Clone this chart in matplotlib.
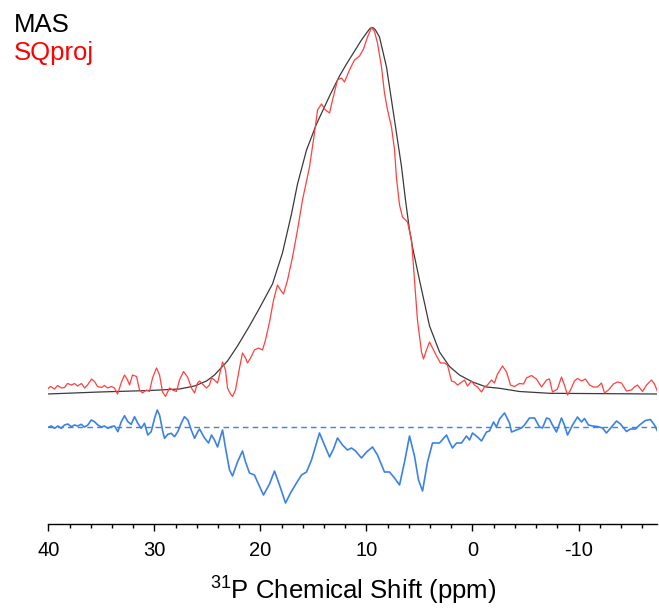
import matplotlib
matplotlib.use('Agg')

import matplotlib.pyplot as plt
from matplotlib.ticker import MultipleLocator

# 31P spectra, intensity in arbitrary units (MAS peak ~ 366)
mas_ppm = [40.07, 35.17, 30.45, 27.63, 26.21, 25.08, 24.33, 23.10, 22.16, 21.03,
           20.08, 18.86, 17.92, 17.07, 16.50, 15.65, 14.71, 13.48, 12.54, 11.88,
           10.94, 10.47, 9.99, 9.71, 9.52, 9.33, 9.15, 8.77, 8.11, 7.64,
           7.17, 6.69, 6.32, 5.94, 5.66, 5.00, 4.05, 3.11, 2.17, 1.23,
           0.00, -1.32, -2.55, -4.43, -7.26, -17.35]
mas_int = [0, 2, 3.5, 5, 8, 13, 19, 33, 48, 68,
           86, 110, 141, 180, 210, 244, 270, 298, 318, 330,
           346, 354, 361, 365, 366.5, 366, 364, 357, 327, 294,
           261, 227, 194, 164, 147, 114, 68, 42, 27.5, 19,
           12, 7, 5.7, 2.5, 0.7, 0]

sq_ppm = [40.07, 39.79, 39.41, 39.13, 38.75, 38.47, 38.19, 37.81, 37.53, 37.24,
          36.87, 36.58, 36.30, 35.92, 35.64, 35.36, 34.98, 34.70, 34.42, 34.04,
          33.76, 33.47, 33.10, 32.81, 32.53, 32.34, 32.06, 31.68, 31.40, 31.12,
          30.74, 30.46, 30.17, 29.80, 29.51, 29.23, 28.95, 28.57, 28.29, 27.91,
          27.63, 27.25, 26.87, 26.50, 26.21, 25.93, 25.74, 25.46, 25.08, 24.80,
          24.61, 24.33, 24.04, 23.86, 23.57, 23.29, 23.10, 22.82, 22.63, 22.35,
          21.97, 21.69, 21.40, 21.22, 20.93, 20.56, 20.18, 19.80, 19.52, 19.14,
          18.76, 18.39, 18.10, 17.82, 17.44, 16.97, 16.50, 16.03, 15.37, 14.90,
          14.61, 14.24, 13.86, 13.48, 13.20, 12.73, 12.35, 12.07, 11.60, 11.13,
          10.65, 10.28, 9.90, 9.52, 9.24, 8.96, 8.58, 8.30, 8.01, 7.64,
          7.35, 7.17, 6.88, 6.60, 6.13, 5.75, 5.47, 5.19, 4.81, 4.62,
          4.34, 4.05, 3.77, 3.39, 3.02, 2.64, 2.36, 1.98, 1.70, 1.41,
          1.13, 0.75, 0.47, 0.09, -0.19, -0.47, -0.85, -1.13, -1.41, -1.79,
          -2.07, -2.36, -2.83, -3.21, -3.58, -3.96, -4.43, -4.81, -5.09, -5.56,
          -6.03, -6.51, -6.98, -7.26, -7.54, -8.01, -8.39, -8.67, -8.96, -9.24,
          -9.62, -9.90, -10.28, -10.65, -11.03, -11.41, -11.79, -12.16, -12.45, -12.82,
          -13.29, -13.67, -14.05, -14.52, -14.99, -15.27, -15.56, -16.03, -16.41, -16.88,
          -17.16, -17.44]
sq_int = [5, 7.5, 5, 8.5, 6, 6.5, 10.5, 9, 10.5, 8,
          10.5, 6, 9, 15, 12.5, 7.5, 6.5, 8.5, 6, 7.5,
          6, 0, 12, 19, 14, 9, 19, 17.5, 4, 1,
          4, 2.5, 16, 26, 19, 2, -2.5, 6, 4, 2.5,
          14, 22.5, 17, 6, 1, 11, 13, 10, 6, 9,
          16, 14, 11, 19, 32, 24, 6, 0, -2.5, 4,
          26, 41, 36, 31, 36, 44, 46, 44, 54, 72,
          94, 109, 104, 100, 114, 137, 164, 194, 227, 261,
          284, 290, 284, 281, 294, 314, 316, 312, 324, 334,
          338, 345, 357, 366.5, 362.5, 351, 327, 301, 284, 267,
          244, 216, 189, 177, 172, 154, 114, 74, 42, 35,
          44, 52, 46, 38, 31, 31, 29, 13, 12, 9,
          11, 14, 8, 13, 9, 7, 2, 7, 9, 14,
          11, 20, 28, 22, 9, 7.5, 10.5, 10, 16, 18.5,
          15, 7, 14, 15, 2, 5, 17, 9, -1, 4,
          13, 15.5, 13, 15, 9, 7, 7, 11, 1, 4,
          10, 12, 11, 3, 4, 7, 9, 2.5, 9, 14,
          10, 2.5]

diff_ppm = [40.04, 39.72, 39.41, 39.10, 38.78, 38.47, 38.16, 37.84, 37.53, 37.22,
            36.90, 36.58, 36.27, 35.95, 35.64, 35.33, 35.01, 34.70, 34.39, 34.07,
            33.76, 33.44, 33.12, 32.81, 32.50, 32.18, 31.87, 31.56, 31.24, 30.93,
            30.62, 30.30, 29.98, 29.73, 29.51, 29.20, 29.04, 28.73, 28.41, 28.10,
            27.79, 27.47, 27.16, 26.84, 26.52, 26.21, 25.90, 25.74, 25.27, 24.89,
            24.61, 24.33, 24.04, 23.57, 23.29, 22.91, 22.63, 22.16, 21.69, 21.40,
            21.03, 20.56, 20.27, 19.71, 19.14, 18.67, 18.20, 17.63, 17.16, 16.60,
            16.12, 15.65, 15.18, 14.43, 13.95, 13.48, 13.11, 12.73, 12.26, 11.79,
            11.41, 11.03, 10.47, 9.99, 9.43, 8.96, 8.30, 7.83, 7.35, 6.88,
            6.41, 5.94, 5.47, 5.09, 4.71, 4.24, 3.77, 3.11, 2.45, 2.17,
            1.89, 1.51, 1.04, 0.57, 0.28, 0.00, -0.47, -0.85, -1.32, -1.60,
            -1.98, -2.26, -2.55, -3.02, -3.49, -3.68, -4.15, -4.62, -4.90, -5.37,
            -5.85, -6.32, -6.60, -6.98, -7.26, -7.54, -7.92, -8.39, -8.67, -8.96,
            -9.43, -9.90, -10.28, -10.56, -10.94, -11.31, -11.79, -12.26, -12.63, -13.11,
            -13.58, -13.95, -14.52, -14.90, -15.37, -15.75, -16.31, -16.78, -17.16, -17.44]
diff_int = [-0.3, 1, -1.3, 1, -1.3, 2, 3, 0.3, 2, 1,
            2.7, 0, 2, 7, 5.3, 2, 0, 1, -1.3, 0.3,
            1, -4.7, 5.3, 11.3, 5.3, 2.7, 10.3, 3.7, -1.3, 3.7,
            -8, -4.7, 8.7, 17, 12, -4.7, -11.3, -7.3, -6.3, -9.7,
            -4.7, 3.7, 10.3, 7, -3, -11.3, -4.7, -2, -11, -16,
            -8, -13, -20, -3, -21, -43, -49, -35, -24, -35,
            -46, -48, -55, -68, -57, -44, -58, -76, -66, -56,
            -48, -45, -33, -6, -18, -30, -22, -11, -18, -23,
            -21, -24, -31, -25, -20, -28, -45, -45, -51, -58,
            -35, -9, -29, -53, -64, -35, -16, -16, -8, -15,
            -21, -16, -16, -9, -13, -6, -10, -14, -5, -4,
            5, 0, 8, 14, 4, -5, -3, -1, 2, 9,
            9, 0, -1, 9, 8, 2, -5, 9, 2, -8,
            2, 10, 5, 8.5, 2, 1, 0.5, -1, -6, 0,
            6, 3, -4.5, -2, -2, 2, 6.5, 7.5, 2, -4]
diff_offset = -33

plt.rcParams['font.family'] = ['Liberation Sans', 'DejaVu Sans']
plt.rcParams['mathtext.fontset'] = 'custom'
plt.rcParams['mathtext.rm'] = 'Liberation Sans'
plt.rcParams['mathtext.it'] = 'Liberation Sans'
plt.rcParams['axes.unicode_minus'] = False

fig = plt.figure(figsize=(6.59, 6.10), dpi=100)
ax = fig.add_axes([0.0733, 0.1405, 0.9237, 0.8595])

diff_y = [v + diff_offset for v in diff_int]
ax.axhline(diff_offset, color='#3b82e6', lw=1.0, dashes=(4, 3))
ax.plot(diff_ppm, diff_y, color='#3b82e6', lw=1.2)
ax.plot(mas_ppm, mas_int, color='#3a3a3a', lw=0.9)
ax.plot(sq_ppm, sq_int, color='#ff4040', lw=0.9)

ax.set_xlim(40, -17.4)
ax.set_ylim(-130.3, 394)
for s in ['left', 'right', 'top']:
    ax.spines[s].set_visible(False)
ax.spines['bottom'].set_linewidth(1.0)
ax.set_yticks([])
ax.xaxis.set_major_locator(MultipleLocator(10))
ax.xaxis.set_minor_locator(MultipleLocator(2))
ax.tick_params(axis='x', which='major', length=5, width=1.0, labelsize=14.5, pad=7)
ax.tick_params(axis='x', which='minor', length=3, width=1.0)
ax.set_xlabel(r'$^{31}$P Chemical Shift (ppm)', fontsize=18.5, labelpad=11)

fig.text(0.0212, 0.948, 'MAS', color='black', fontsize=18.5, va='baseline')
fig.text(0.0212, 0.9016, 'SQproj', color='red', fontsize=18.5, va='baseline')

plt.savefig('out.png', dpi=100)
plt.close(fig)
